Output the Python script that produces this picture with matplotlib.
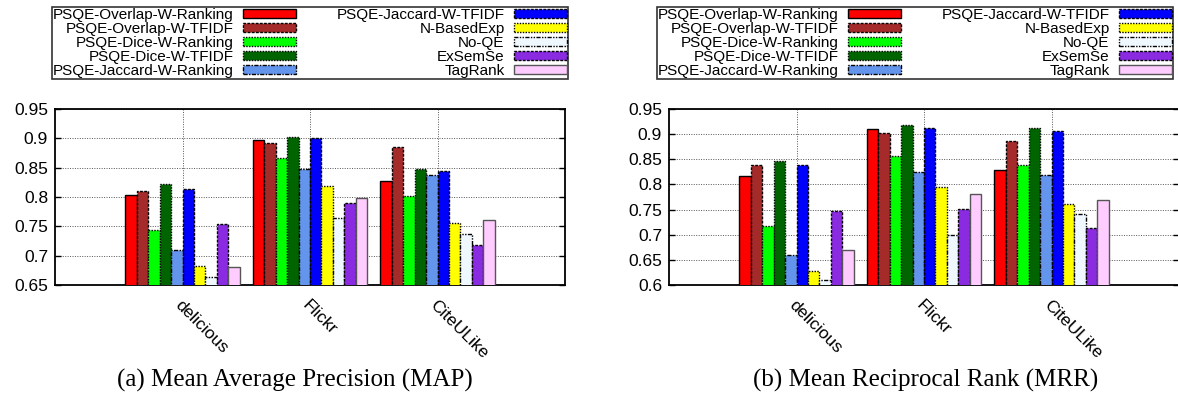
import matplotlib.pyplot as plt
import numpy as np

# datasets and methods
datasets = ['delicious', 'Flickr', 'CiteULike']
methods = ['PSQE-Overlap-W-Ranking', 'PSQE-Overlap-W-TFIDF', 'PSQE-Dice-W-Ranking',
           'PSQE-Dice-W-TFIDF', 'PSQE-Jaccard-W-Ranking', 'PSQE-Jaccard-W-TFIDF',
           'N-BasedExp', 'No-QE', 'ExSemSe', 'TagRank']

# values per method, one entry per dataset
map_scores = [
    [0.803, 0.897, 0.828],
    [0.811, 0.892, 0.885],
    [0.744, 0.866, 0.801],
    [0.822, 0.903, 0.847],
    [0.710, 0.847, 0.837],
    [0.814, 0.900, 0.844],
    [0.683, 0.819, 0.755],
    [0.664, 0.764, 0.737],
    [0.754, 0.789, 0.719],
    [0.680, 0.799, 0.760],
]
mrr_scores = [
    [0.817, 0.911, 0.828],
    [0.839, 0.903, 0.887],
    [0.717, 0.857, 0.839],
    [0.847, 0.919, 0.913],
    [0.659, 0.825, 0.818],
    [0.839, 0.913, 0.907],
    [0.627, 0.795, 0.761],
    [0.610, 0.700, 0.741],
    [0.747, 0.751, 0.713],
    [0.670, 0.780, 0.770],
]

colors = ['#ff0000', '#a52a2a', '#00ff00', '#006400', '#6495ed',
          '#0000ff', '#ffff00', '#f0f8ff', '#8a2be2', '#ffccff']
edge_colors = ['black'] * 9 + ['#555555']
edge_styles = ['-', (0, (2, 1)), (0, (1, 1)), (0, (1, 1)), (0, (3, 1, 1, 1)),
               (0, (2, 1)), (0, (1, 1)), (0, (3, 1, 1, 1, 1, 1)), (0, (2, 1)), '-']

plt.rcParams['font.family'] = ['Liberation Sans', 'DejaVu Sans']

fig = plt.figure(figsize=(11.78, 4.03), dpi=100)
ax_map = fig.add_axes([55 / 1178, 1 - 285 / 403, 510 / 1178, 176 / 403])
ax_mrr = fig.add_axes([669 / 1178, 1 - 285 / 403, 510 / 1178, 176 / 403])


def draw_bars(ax, scores, ylow, yticks):
    x = np.arange(1, len(datasets) + 1)
    n = len(methods)
    w = 0.09
    bars = []
    for i in range(n):
        b = ax.bar(x + (i - (n - 1) / 2) * w, scores[i], w, bottom=0,
                   color=colors[i], edgecolor=edge_colors[i],
                   linestyle=edge_styles[i], linewidth=1.0,
                   label=methods[i], zorder=3)
        bars.append(b)
    ax.set_xlim(0, 4)
    ax.set_ylim(ylow, 0.95)
    ax.set_yticks(yticks)
    ax.set_yticklabels(['%g' % t for t in yticks], fontsize=12.5)
    ax.set_xticks(x)
    ax.set_xticklabels(datasets, rotation=-45, ha='left', va='top',
                       rotation_mode='anchor', fontsize=12.5)
    ax.tick_params(axis='both', direction='in', length=4, width=1,
                   right=True, top=False, pad=5)
    ax.tick_params(axis='x', length=0, pad=9)
    ax.grid(True, color='#555555', linestyle=(0, (1, 1.5)), linewidth=0.7, zorder=0)
    for s in ax.spines.values():
        s.set_linewidth(1.3)
    return bars


bars = draw_bars(ax_map, map_scores, 0.65, np.arange(0.65, 0.951, 0.05).round(2))
draw_bars(ax_mrr, mrr_scores, 0.6, np.arange(0.6, 0.951, 0.05).round(2))

# legends above each chart, gnuplot style (label then swatch)
for x0 in [52, 657]:
    leg = fig.legend(handles=bars, labels=methods, ncols=2, markerfirst=False,
                     loc='upper left', mode='expand',
                     bbox_to_anchor=(x0 / 1178, 1 - 82 / 403, 516 / 1178, 75 / 403),
                     fontsize=11, handlelength=3.5, handleheight=0.55,
                     handletextpad=0.6, labelspacing=0.0, borderpad=0.05,
                     borderaxespad=0, columnspacing=1.5, fancybox=False)
    leg.get_frame().set_edgecolor('black')
    leg.get_frame().set_linewidth(1.2)

fig.text(295 / 1178, 1 - 380 / 403, '(a) Mean Average Precision (MAP)',
         ha='center', va='center', fontsize=18, family='Liberation Serif')
fig.text(926 / 1178, 1 - 380 / 403, '(b) Mean Reciprocal Rank (MRR)',
         ha='center', va='center', fontsize=18, family='Liberation Serif')

fig.savefig('out.png', dpi=100)
